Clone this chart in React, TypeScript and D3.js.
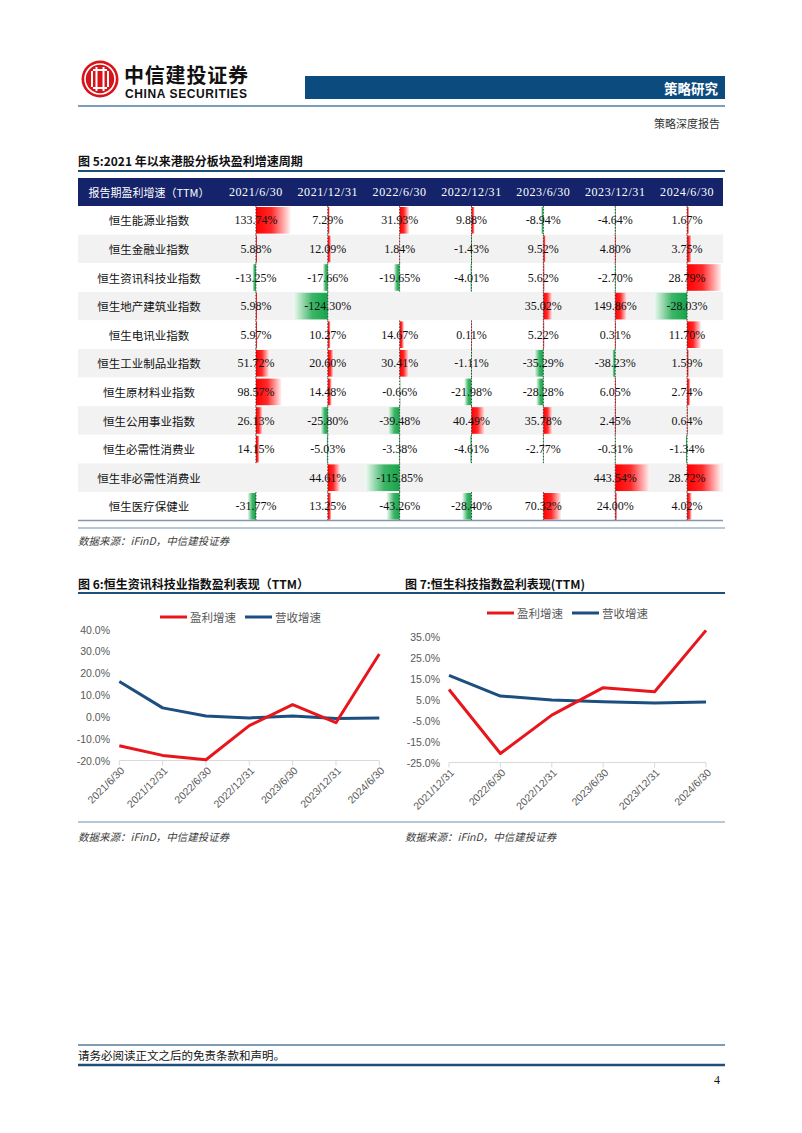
import React from 'react';
import * as d3 from 'd3';

// ---------- data ----------
const periods = ['2021/6/30', '2021/12/31', '2022/6/30', '2022/12/31', '2023/6/30', '2023/12/31', '2024/6/30'];
const sectors = ['恒生能源业指数', '恒生金融业指数', '恒生资讯科技业指数', '恒生地产建筑业指数', '恒生电讯业指数', '恒生工业制品业指数', '恒生原材料业指数', '恒生公用事业指数', '恒生必需性消费业', '恒生非必需性消费业', '恒生医疗保健业'];
const energy = [133.74, 7.29, 31.93, 9.88, -8.94, -4.64, 1.67];
const finance = [5.88, 12.09, 1.84, -1.43, 9.52, 4.80, 3.75];
const infoTech = [-13.25, -17.66, -19.65, -4.01, 5.62, -2.70, 28.79];
const property = [5.98, -124.30, null, null, 35.02, 149.86, -28.03];
const telecom = [5.97, 10.27, 14.67, 0.11, 5.22, 0.31, 11.70];
const industrials = [51.72, 20.60, 30.41, -1.11, -35.29, -38.23, 1.59];
const materials = [98.57, 14.48, -0.66, -21.98, -28.28, 6.05, 2.74];
const utilities = [26.13, -25.80, -39.48, 40.49, 35.78, 2.45, 0.64];
const staples = [14.15, -5.03, -3.38, -4.61, -2.77, -0.31, -1.34];
const discretionary = [null, 44.61, -115.85, null, null, 443.54, 28.72];
const healthcare = [-31.77, 13.25, -43.26, -28.40, 70.32, 24.00, 4.02];
const growthRows: (number | null)[][] = [energy, finance, infoTech, property, telecom, industrials, materials, utilities, staples, discretionary, healthcare];
// data-bar scale maximum per column
const barDomainMax = [133.74, 124.3, 115.85, 105, 137, 443.54, 29];

const itPeriods = ['2021/6/30', '2021/12/31', '2022/6/30', '2022/12/31', '2023/6/30', '2023/12/31', '2024/6/30'];
const itProfit = [-13.25, -17.66, -19.65, -4.01, 5.62, -2.70, 28.79];
const itRevenue = [16.2, 4.1, 0.4, -0.5, 0.4, -0.8, -0.5];
const itTicks = [40, 30, 20, 10, 0, -10, -20];

const techPeriods = ['2021/12/31', '2022/6/30', '2022/12/31', '2023/6/30', '2023/12/31', '2024/6/30'];
const techProfit = [9.8, -20.7, -2.4, 10.7, 8.7, 38.0];
const techRevenue = [16.6, 6.7, 4.8, 4.0, 3.4, 3.9];
const techTicks = [35, 25, 15, 5, -5, -15, -25];

const legendNames = ['盈利增速', '营收增速'];

// ---------- styles ----------
const CJK = '"Noto Sans CJK SC", sans-serif';
const SERIF = '"Liberation Serif", "Noto Sans CJK SC", serif';
const SANS = '"Liberation Sans", Arial, sans-serif';
const RED = '#e8161c';
const BLUE = '#1c4f80';

const locale = d3.formatLocale({ decimal: '.', thousands: ',', grouping: [3], currency: ['', ''], minus: '-' });
const fmt2 = locale.format('.2f');
const fmt1 = locale.format('.1f');

function LineChart(props: {
  x0: number; x1: number; yBottom: number; yTop: number; domain: [number, number];
  cats: string[]; profit: number[]; revenue: number[]; ticks: number[]; labelX: number;
  legendX: number; legendY: number;
}) {
  const { x0, x1, yBottom, yTop, domain, cats, profit, revenue, ticks, labelX, legendX, legendY } = props;
  const x = d3.scalePoint<string>().domain(cats).range([x0, x1]).padding(0);
  const y = d3.scaleLinear().domain(domain).range([yBottom, yTop]);
  const line = d3.line<number>().x((_, i) => x(cats[i]) as number).y((d) => y(d));
  const axisY = y(domain[0]);
  return (
    <g>
      {/* legend */}
      <line x1={legendX} x2={legendX + 27} y1={legendY} y2={legendY} stroke={RED} strokeWidth={3} />
      <text x={legendX + 30} y={legendY} dominantBaseline="central" fontFamily={CJK} fontSize={11.5} fill="#595959">{legendNames[0]}</text>
      <line x1={legendX + 85} x2={legendX + 112} y1={legendY} y2={legendY} stroke={BLUE} strokeWidth={3} />
      <text x={legendX + 115} y={legendY} dominantBaseline="central" fontFamily={CJK} fontSize={11.5} fill="#595959">{legendNames[1]}</text>
      {/* y tick labels */}
      {ticks.map((t) => (
        <text key={t} x={labelX} y={y(t)} textAnchor="end" dominantBaseline="central" fontFamily={SANS} fontSize={10.5} fill="#595959">{fmt1(t) + '%'}</text>
      ))}
      {/* x axis */}
      <line x1={x0} x2={x1} y1={axisY} y2={axisY} stroke="#d9d9d9" strokeWidth={1} />
      {cats.map((c) => (
        <line key={'t' + c} x1={x(c)} x2={x(c)} y1={axisY} y2={axisY + 5} stroke="#d9d9d9" strokeWidth={1} />
      ))}
      {cats.map((c) => (
        <text key={'l' + c} transform={`translate(${(x(c) as number) + 3},${axisY + 8}) rotate(-45)`} textAnchor="end" dominantBaseline="central" fontFamily={SANS} fontSize={10.5} fill="#595959">{c}</text>
      ))}
      <path d={line(revenue) as string} fill="none" stroke={BLUE} strokeWidth={3} strokeLinejoin="round" />
      <path d={line(profit) as string} fill="none" stroke={RED} strokeWidth={3} strokeLinejoin="round" />
    </g>
  );
}

export default function App() {
  const W = 802, H = 1133;
  const tX0 = 78, tX1 = 723, firstW = 142;
  const headY = 178, headH = 28, rowH = 28.6;
  const colX = d3.scaleBand<string>().domain(periods).range([tX0 + firstW, tX1]).padding(0);
  const colW = colX.bandwidth();
  const rowY = (i: number) => headY + headH + i * rowH;
  const tableBottom = rowY(sectors.length);

  return (
    <svg width={W} height={H} viewBox={`0 0 ${W} ${H}`} style={{ position: 'absolute', left: 0, top: 0, background: '#fff' }}>
      <defs>
        <linearGradient id="gPos" x1="0" x2="1" y1="0" y2="0">
          <stop offset="0" stopColor="#ff0000" />
          <stop offset="0.45" stopColor="#ff2a2a" />
          <stop offset="1" stopColor="#fff2f2" />
        </linearGradient>
        <linearGradient id="gNeg" x1="1" x2="0" y1="0" y2="0">
          <stop offset="0" stopColor="#16a44a" />
          <stop offset="0.45" stopColor="#3db567" />
          <stop offset="1" stopColor="#f2fbf5" />
        </linearGradient>
      </defs>
      <rect width={W} height={H} fill="#fff" />

      {/* ---------- header ---------- */}
      <g>
        <circle cx={100} cy={79} r={18.5} fill="#d7141a" />
        <circle cx={100} cy={79} r={15} fill="none" stroke="#fff" strokeWidth={1.6} />
        <circle cx={100} cy={79} r={12.5} fill="#d7141a" />
        {[-8, -3.5, 3.5, 8].map((dx, i) => (
          <rect key={i} x={100 + dx - 1} y={i === 0 || i === 3 ? 71 : 67} width={2} height={i === 0 || i === 3 ? 16 : 24} fill="#fff" />
        ))}
        <rect x={93} y={69} width={14} height={2} fill="#fff" />
        <rect x={93} y={87} width={14} height={2} fill="#fff" />
        <text x={124} y={83} fontFamily={CJK} fontWeight={700} fontSize={20} fill="#111" textLength={124}>中信建投证券</text>
        <text x={125} y={98} fontFamily={SANS} fontWeight={700} fontSize={12} fill="#111" textLength={122}>CHINA SECURITIES</text>
        <rect x={305} y={76} width={420} height={23} fill="#0c4b7d" />
        <text x={718} y={88} textAnchor="end" dominantBaseline="central" fontFamily={CJK} fontWeight={700} fontSize={13.5} fill="#fff">策略研究</text>
        <line x1={78} x2={725} y1={106} y2={106} stroke="#4f7ea6" strokeWidth={1.5} />
        <text x={720} y={123} textAnchor="end" dominantBaseline="central" fontFamily={CJK} fontSize={11} fill="#333">策略深度报告</text>
      </g>

      {/* ---------- table ---------- */}
      <text x={78} y={160} dominantBaseline="central" fontFamily={CJK} fontWeight={700} fontSize={12} fill="#111">图 5:2021 年以来港股分板块盈利增速周期</text>
      <line x1={78} x2={725} y1={171} y2={171} stroke="#1f4e79" strokeWidth={2} />
      <rect x={tX0} y={headY} width={tX1 - tX0} height={headH} fill="#14236a" />
      <text x={tX0 + firstW / 2} y={headY + headH / 2} textAnchor="middle" dominantBaseline="central" fontFamily={CJK} fontSize={11} fill="#fff">报告期盈利增速（TTM）</text>
      {periods.map((p) => (
        <text key={p} x={(colX(p) as number) + colW / 2} y={headY + headH / 2} textAnchor="middle" dominantBaseline="central" fontFamily={SERIF} fontSize={12} letterSpacing={0.6} fill="#fff">{p}</text>
      ))}
      {sectors.map((s, i) => (
        <g key={s}>
          <rect x={tX0} y={rowY(i)} width={tX1 - tX0} height={rowH} fill={i % 2 === 1 ? '#f2f2f2' : '#ffffff'} />
          <text x={tX0 + firstW / 2} y={rowY(i) + rowH / 2} textAnchor="middle" dominantBaseline="central" fontFamily={CJK} fontSize={11.5} fill="#111">{s}</text>
          {periods.map((p, j) => {
            const v = growthRows[i][j];
            if (v === null) return null;
            const cx = (colX(p) as number) + colW / 2;
            const len = d3.scaleLinear().domain([0, barDomainMax[j]]).range([0, colW / 2 - 1.5]).clamp(true)(Math.abs(v));
            return (
              <g key={p}>
                <rect x={v >= 0 ? cx : cx - len} y={rowY(i) + 1} width={Math.max(len, 0.8)} height={rowH - 2} fill={v >= 0 ? 'url(#gPos)' : 'url(#gNeg)'} />
                <line x1={cx} x2={cx} y1={rowY(i)} y2={rowY(i) + rowH} stroke="#222" strokeWidth={0.8} strokeDasharray="1.5,1.5" />
                <text x={cx} y={rowY(i) + rowH / 2} textAnchor="middle" dominantBaseline="central" fontFamily={SERIF} fontSize={12} fill="#111">{fmt2(v) + '%'}</text>
              </g>
            );
          })}
        </g>
      ))}
      <line x1={tX0} x2={tX1} y1={tableBottom} y2={tableBottom} stroke="#8496b0" strokeWidth={1.5} />
      <line x1={78} x2={725} y1={528} y2={528} stroke="#6f8fae" strokeWidth={1.2} />
      <text x={78} y={540} dominantBaseline="central" fontFamily={CJK} fontStyle="italic" fontSize={10.5} fill="#404040">数据来源：iFinD，中信建投证券</text>

      {/* ---------- charts ---------- */}
      <text x={78} y={583} dominantBaseline="central" fontFamily={CJK} fontWeight={700} fontSize={12} fill="#111">图 6:恒生资讯科技业指数盈利表现（TTM）</text>
      <text x={405} y={583} dominantBaseline="central" fontFamily={CJK} fontWeight={700} fontSize={12} fill="#111">图 7:恒生科技指数盈利表现(TTM)</text>
      <line x1={78} x2={725} y1={593} y2={593} stroke="#1f4e79" strokeWidth={2} />

      <LineChart x0={119.3} x1={379.3} yBottom={760.5} yTop={629.5} domain={[-20, 40]} cats={itPeriods}
        profit={itProfit} revenue={itRevenue} ticks={itTicks} labelX={110} legendX={160} legendY={617} />
      <LineChart x0={449} x1={706} yBottom={762.5} yTop={626.2} domain={[-25, 40]} cats={techPeriods}
        profit={techProfit} revenue={techRevenue} ticks={techTicks} labelX={440} legendX={487} legendY={613} />

      <line x1={78} x2={725} y1={822} y2={822} stroke="#6f8fae" strokeWidth={1.2} />
      <text x={78} y={836} dominantBaseline="central" fontFamily={CJK} fontStyle="italic" fontSize={10.5} fill="#404040">数据来源：iFinD，中信建投证券</text>
      <text x={405} y={836} dominantBaseline="central" fontFamily={CJK} fontStyle="italic" fontSize={10.5} fill="#404040">数据来源：iFinD，中信建投证券</text>

      {/* ---------- footer ---------- */}
      <line x1={78} x2={725} y1={1045} y2={1045} stroke="#7f9cb5" strokeWidth={2} />
      <text x={78} y={1055} dominantBaseline="central" fontFamily={CJK} fontSize={11.5} fill="#111">请务必阅读正文之后的免责条款和声明。</text>
      <line x1={78} x2={725} y1={1065} y2={1065} stroke="#1f4e79" strokeWidth={2.5} />
      <text x={720} y={1080} textAnchor="end" dominantBaseline="central" fontFamily={SERIF} fontSize={12} fill="#111">4</text>
    </svg>
  );
}
